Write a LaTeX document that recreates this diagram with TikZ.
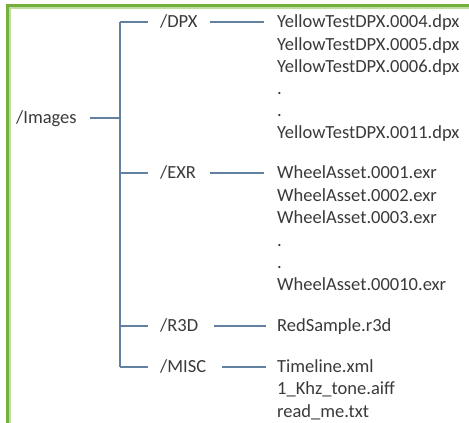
\documentclass[tikz,border=0pt]{standalone}
\usepackage{fontspec}
\setmainfont{Carlito}
\definecolor{framegreen}{RGB}{118,176,60}
\definecolor{framelight}{RGB}{190,220,160}
\definecolor{treeline}{RGB}{98,128,160}
\definecolor{labeltext}{RGB}{58,58,58}
\begin{document}
\begin{tikzpicture}[x=1pt,y=-1pt,
  lbl/.style={anchor=west,inner sep=0pt,text height=11.9pt,text depth=0pt,
    text=labeltext,font=\fontsize{18.5pt}{22pt}\selectfont},
  conn/.style={draw=treeline,line width=1.4pt}]
  % canvas and the green frame along the top and left edges
  \fill[white] (0,0) rectangle (469,423);
  \useasboundingbox (0,0) rectangle (469,423);
  \draw[framelight,line width=1.6pt] (9.8,423) -- (9.8,7.8) -- (469,7.8);
  \draw[framegreen,line width=2.6pt] (7.3,423) -- (7.3,5.3) -- (469,5.3);

  % root and folder labels
  \node[lbl] (images) at (16,118) {/Images};
  \node[lbl] (dpx)  at (160,22)  {/DPX};
  \node[lbl] (exr)  at (160,173) {/EXR};
  \node[lbl] (r3d)  at (160,326) {/R3D};
  \node[lbl] (misc) at (160,367) {/MISC};
  \coordinate (trunk) at (120,0);

  % file listings
  \node[lbl] (d1) at (277,22)    {YellowTestDPX.0004.dpx};
  \node[lbl] (d2) at (277,44.2)  {YellowTestDPX.0005.dpx};
  \node[lbl] (d3) at (277,66.4)  {YellowTestDPX.0006.dpx};
  \node[lbl] (d4) at (277,88.6)  {.};
  \node[lbl] (d5) at (277,110.8) {.};
  \node[lbl] (d6) at (277,133)   {YellowTestDPX.0011.dpx};

  \node[lbl] (e1) at (277,173)   {WheelAsset.0001.exr};
  \node[lbl] (e2) at (277,195.4) {WheelAsset.0002.exr};
  \node[lbl] (e3) at (277,217.8) {WheelAsset.0003.exr};
  \node[lbl] (e4) at (277,240.2) {.};
  \node[lbl] (e5) at (277,262.6) {.};
  \node[lbl] (e6) at (277,285)   {WheelAsset.00010.exr};

  \node[lbl] (r1) at (277,326)   {RedSample.r3d};

  \node[lbl] (m1) at (277,366.5) {Timeline.xml};
  \node[lbl] (m2) at (277,389)   {1\_Khz\_tone.aiff};
  \node[lbl] (m3) at (277,411.5) {read\_me.txt};

  % tree connectors
  \draw[conn,shorten <=13pt] (images.east) -- (images.east -| trunk);
  \draw[conn] (dpx.west -| trunk) -- (misc.west -| trunk);
  \foreach \f in {dpx,exr,r3d,misc}
    \draw[conn,shorten >=12pt] (\f.west -| trunk) -- (\f.west);
  \draw[conn,shorten <=12pt,shorten >=13pt] (dpx.east)  -- (dpx.east -| d1.west);
  \draw[conn,shorten <=14pt,shorten >=13pt] (exr.east)  -- (exr.east -| e1.west);
  \draw[conn,shorten <=16pt,shorten >=11pt] (r3d.east)  -- (r3d.east -| r1.west);
  \draw[conn,shorten <=16pt,shorten >=11pt] (misc.east) -- (misc.east -| m1.west);
\end{tikzpicture}
\end{document}
